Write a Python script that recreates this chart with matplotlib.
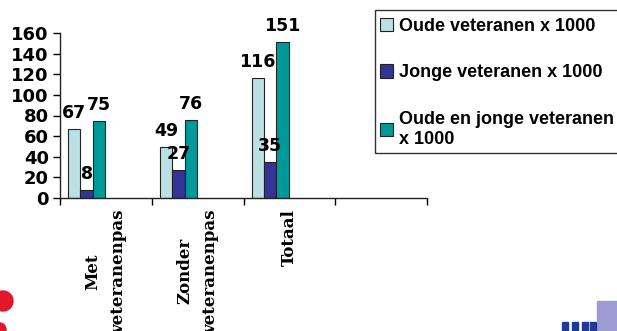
import matplotlib
matplotlib.use("Agg")
import matplotlib.pyplot as plt
from matplotlib.patches import Ellipse, Rectangle

# Data (aantallen x 1000)
categories = ["Met\nveteranenpas", "Zonder\nveteranenpas", "Totaal"]
series_names = ["Oude veteranen x 1000", "Jonge veteranen x 1000",
                "Oude en jonge veteranen\nx 1000"]
oude = [67, 49, 116]
jonge = [8, 27, 35]
totaal = [75, 76, 151]
yticks = [0, 20, 40, 60, 80, 100, 120, 140, 160]

colors = ["#B9E1E3", "#333399", "#009999"]
values = [oude, jonge, totaal]
offsets = [0.155, 0.29, 0.425]
bar_w = 0.135

W, H = 617, 331
fig = plt.figure(figsize=(W / 100, H / 100), dpi=100)
ax = fig.add_axes([60 / W, 1 - 198 / H, (427 - 60) / W, (198 - 33) / H])

handles = []
for vals, col, off, name in zip(values, colors, offsets, series_names):
    xs = [i + off for i in range(len(categories))]
    b = ax.bar(xs, vals, width=bar_w, color=col, edgecolor="#222222",
               linewidth=0.8, label=name, zorder=2)
    handles.append(b)
    for x, v in zip(xs, vals):
        ax.annotate(str(v), (x, v), xytext=(0, 8), textcoords="offset points",
                    ha="center", va="baseline", fontsize=12.5,
                    fontweight="bold", family="DejaVu Sans", color="black",
                    zorder=3)

ax.set_xlim(0, 4)
ax.set_ylim(0, 160)

for s in ["top", "right"]:
    ax.spines[s].set_visible(False)
for s in ["left", "bottom"]:
    ax.spines[s].set_linewidth(1.0)
    ax.spines[s].set_color("#222222")

ax.set_yticks(yticks)
ax.set_yticklabels([str(t) for t in yticks], fontsize=13, fontweight="bold",
                   family="DejaVu Sans")
ax.tick_params(axis="y", direction="out", length=5, width=1, pad=3)

# group boundaries as major ticks, category names centred in each slot
ax.set_xticks([0, 1, 2, 3, 4])
ax.set_xticklabels([])
ax.tick_params(axis="x", which="major", direction="out", length=5, width=1)
ax.set_xticks([i + 0.5 for i in range(len(categories))], minor=True)
ax.set_xticklabels(categories, minor=True, rotation=90, fontsize=12,
                   fontweight="bold", family="DejaVu Serif",
                   multialignment="center", linespacing=1.65)
ax.tick_params(axis="x", which="minor", length=0, pad=8)

# legend box, open on the right edge of the figure
fig.patches.append(Rectangle((375 / W, 1 - 153 / H), 250 / W, 143 / H,
                             transform=fig.transFigure, facecolor="white",
                             edgecolor="#333333", linewidth=1.0, zorder=1))
leg = fig.legend(handles=handles, loc="upper left",
                 bbox_to_anchor=(376 / W, 1 - 14 / H),
                 frameon=False,
                 prop={"family": "Liberation Sans", "weight": "bold", "size": 13},
                 handlelength=0.75, handleheight=0.75, handletextpad=0.3,
                 labelspacing=1.65, borderpad=0.2, borderaxespad=0)
leg.set_zorder(2)

# logo fragments at the bottom corners
fig.patches.append(Ellipse((3 / W, 1 - 301 / H), 20 / W, 20 / H,
                           transform=fig.transFigure, color="#E0182A", zorder=1))
fig.patches.append(Ellipse((0 / W, 1 - 330 / H), 12 / W, 14 / H,
                           transform=fig.transFigure, color="#E0182A", zorder=1))
fig.patches.append(Rectangle((597 / W, 0), 20 / W, 30 / H, transform=fig.transFigure,
                             color="#9C9CD2", zorder=1))
for x0 in [562, 572, 582, 590]:
    fig.patches.append(Rectangle((x0 / W, 0), 6 / W, 9 / H,
                                 transform=fig.transFigure, color="#1F3A93", zorder=1))

fig.savefig("out.png", dpi=100)
